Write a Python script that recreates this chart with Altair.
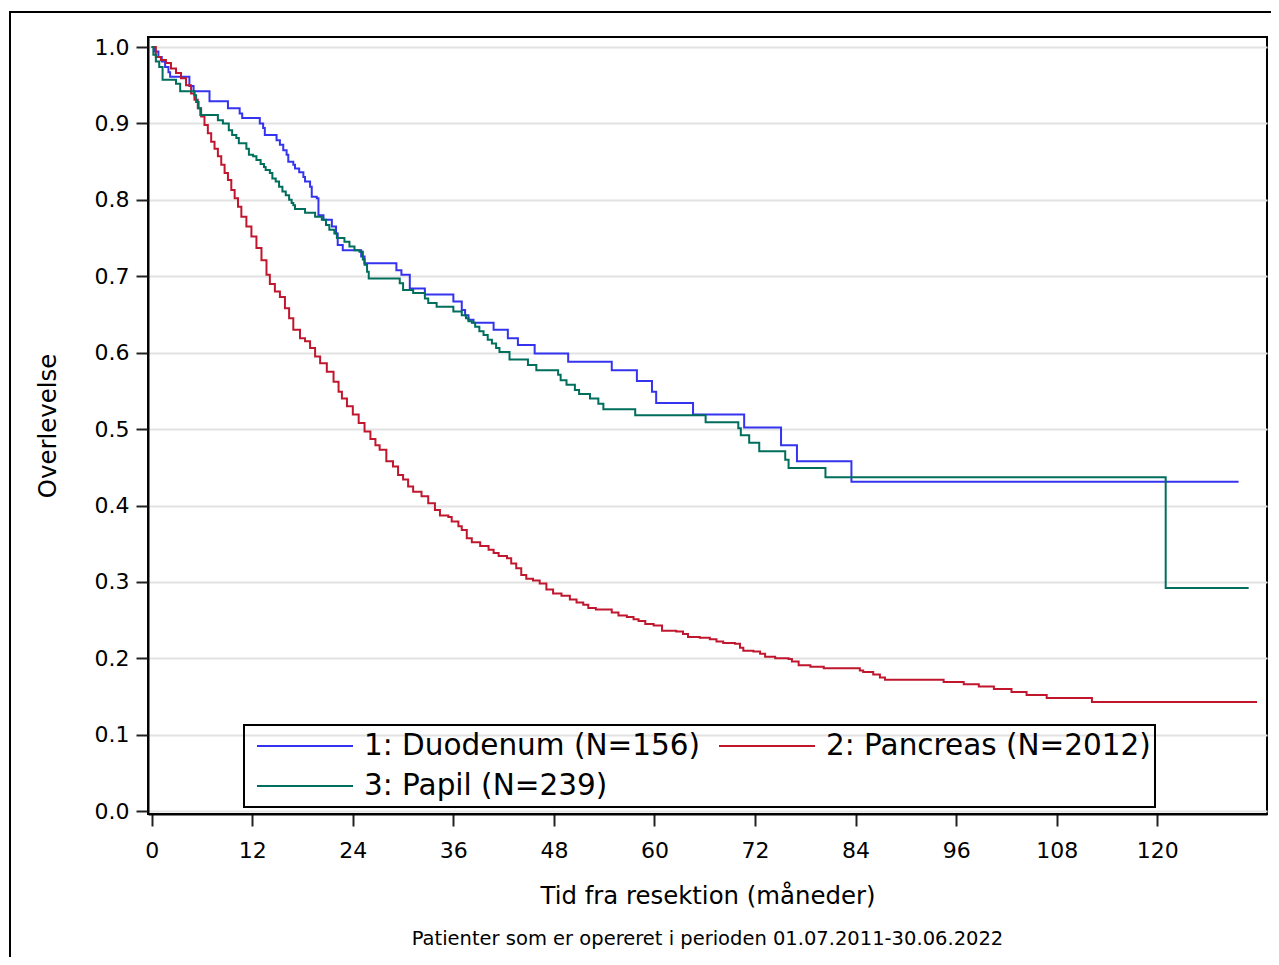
import altair as alt
import pandas as pd

# ---- data ----
series_names = ["1: Duodenum (N=156)", "2: Pancreas (N=2012)", "3: Papil (N=239)"]
series_colors = ["#3434f0", "#c0172e", "#006e5c"]

duo_month = [0, 0.3, 0.8, 1.2, 1.6, 2.0, 2.2, 4.5, 5.0, 6.9, 9.1, 10.5, 10.8, 12.9, 13.3, 13.5,
             14.9, 15.3, 15.7, 16.1, 16.3, 16.9, 17.1, 17.6, 18.1, 18.3, 18.9, 19.1, 19.7, 19.9,
             20.5, 21.5, 22.0, 22.2, 22.8, 25.0, 25.4, 29.2, 29.8, 30.8, 32.6, 36.0, 37.0, 37.4,
             37.8, 38.4, 40.8, 42.5, 43.7, 45.7, 49.7, 54.9, 57.9, 59.7, 60.2, 64.6, 70.7, 75.1,
             77.0, 83.5, 129.7]
duo_surv = [1.0, 0.994, 0.987, 0.981, 0.974, 0.967, 0.961, 0.949, 0.942, 0.929, 0.920, 0.913, 0.907,
            0.900, 0.894, 0.885, 0.878, 0.872, 0.865, 0.859, 0.850, 0.846, 0.841, 0.836, 0.830, 0.824,
            0.817, 0.804, 0.802, 0.780, 0.774, 0.765, 0.756, 0.741, 0.734, 0.726, 0.717, 0.708, 0.702,
            0.684, 0.676, 0.667, 0.656, 0.649, 0.643, 0.639, 0.630, 0.619, 0.610, 0.599, 0.588, 0.577,
            0.563, 0.549, 0.534, 0.519, 0.502, 0.479, 0.458, 0.431, 0.431]

pan_month = [0, 0.5, 1.1, 1.7, 2.3, 2.9, 3.5, 4.1, 4.7, 5.1, 5.5, 5.9, 6.3, 6.7, 7.1, 7.5, 7.9, 8.3,
             8.7, 9.1, 9.5, 9.9, 10.3, 10.7, 11.3, 11.9, 12.5, 13.1, 13.7, 14.1, 14.7, 15.3, 15.9,
             16.4, 16.9, 17.7, 18.3, 18.9, 19.5, 20.1, 20.9, 21.7, 22.3, 22.7, 23.3, 24.0, 24.7,
             25.4, 26.1, 26.7, 27.2, 28.0, 28.8, 29.4, 30.0, 30.6, 31.2, 32.2, 33.0, 33.8, 34.4,
             35.4, 35.8, 36.6, 37.0, 37.6, 38.2, 39.2, 40.2, 40.8, 41.4, 42.4, 42.9, 43.5, 44.1,
             44.7, 45.5, 46.3, 47.1, 47.9, 48.9, 49.9, 50.7, 51.5, 52.1, 53.0, 54.9, 55.7, 56.7,
             57.5, 58.1, 58.9, 59.9, 60.9, 62.6, 63.4, 64.0, 65.4, 66.6, 67.4, 68.2, 69.6, 70.2,
             70.6, 71.8, 72.6, 73.2, 74.4, 76.0, 76.4, 77.2, 78.6, 80.2, 84.5, 84.9, 86.1, 86.9,
             87.5, 94.5, 96.9, 98.7, 100.5, 102.6, 104.4, 106.8, 112.2, 131.9]
pan_surv = [1.0, 0.987, 0.983, 0.979, 0.972, 0.966, 0.959, 0.950, 0.939, 0.931, 0.920, 0.909, 0.898,
            0.887, 0.876, 0.867, 0.857, 0.846, 0.835, 0.826, 0.813, 0.802, 0.791, 0.778, 0.765, 0.752,
            0.737, 0.721, 0.702, 0.690, 0.680, 0.673, 0.658, 0.645, 0.630, 0.619, 0.615, 0.606, 0.595,
            0.586, 0.575, 0.562, 0.549, 0.540, 0.530, 0.519, 0.508, 0.497, 0.487, 0.479, 0.473, 0.458,
            0.451, 0.440, 0.434, 0.425, 0.418, 0.412, 0.403, 0.394, 0.387, 0.385, 0.379, 0.373, 0.368,
            0.357, 0.352, 0.347, 0.342, 0.338, 0.334, 0.331, 0.324, 0.318, 0.309, 0.304, 0.302, 0.298,
            0.290, 0.285, 0.282, 0.277, 0.273, 0.270, 0.266, 0.264, 0.260, 0.256, 0.254, 0.251, 0.249,
            0.245, 0.243, 0.236, 0.235, 0.232, 0.228, 0.227, 0.225, 0.222, 0.220, 0.219, 0.214, 0.210,
            0.209, 0.206, 0.202, 0.200, 0.199, 0.196, 0.191, 0.189, 0.187, 0.184, 0.182, 0.179, 0.175,
            0.172, 0.169, 0.166, 0.163, 0.160, 0.156, 0.152, 0.148, 0.143, 0.143]

pap_month = [0, 0.2, 0.5, 0.9, 1.3, 2.9, 3.4, 5.1, 5.3, 5.6, 5.8, 7.9, 8.5, 9.2, 9.6, 10.1, 10.4,
             11.3, 11.6, 12.1, 12.5, 13.0, 13.4, 13.6, 14.1, 14.4, 14.8, 15.2, 15.6, 16.0, 16.4,
             16.7, 16.9, 17.1, 18.3, 19.5, 20.3, 20.8, 21.2, 21.8, 22.1, 23.0, 23.6, 24.2, 24.8,
             25.2, 25.4, 25.7, 25.9, 29.6, 30.0, 31.2, 32.6, 33.0, 34.0, 36.0, 37.0, 37.5, 37.8,
             38.2, 38.6, 39.1, 39.6, 40.1, 40.6, 41.1, 41.5, 42.7, 44.9, 45.9, 48.5, 48.8, 49.5,
             50.5, 51.0, 52.3, 53.3, 53.9, 57.7, 66.1, 70.0, 70.3, 71.3, 72.5, 75.6, 76.0, 80.4,
             121.0, 130.9]
pap_surv = [1.0, 0.990, 0.981, 0.974, 0.957, 0.952, 0.942, 0.937, 0.928, 0.920, 0.911, 0.904, 0.900,
            0.891, 0.885, 0.881, 0.874, 0.867, 0.859, 0.857, 0.852, 0.847, 0.843, 0.839, 0.835, 0.828,
            0.824, 0.817, 0.811, 0.806, 0.800, 0.796, 0.793, 0.788, 0.783, 0.778, 0.774, 0.767, 0.761,
            0.756, 0.750, 0.745, 0.739, 0.734, 0.732, 0.722, 0.715, 0.706, 0.697, 0.691, 0.682, 0.678,
            0.671, 0.665, 0.660, 0.654, 0.649, 0.645, 0.641, 0.639, 0.634, 0.628, 0.623, 0.617, 0.612,
            0.606, 0.601, 0.591, 0.584, 0.577, 0.571, 0.564, 0.558, 0.551, 0.546, 0.540, 0.533, 0.526,
            0.518, 0.509, 0.501, 0.492, 0.482, 0.471, 0.460, 0.449, 0.437, 0.292, 0.292]

x_ticks = [0, 12, 24, 36, 48, 60, 72, 84, 96, 108, 120]
y_ticks = [0.0, 0.1, 0.2, 0.3, 0.4, 0.5, 0.6, 0.7, 0.8, 0.9, 1.0]
x_title = "Tid fra resektion (måneder)"
y_title = "Overlevelse"
footnote = "Patienter som er opereret i perioden 01.07.2011-30.06.2022"

# ---- tables ----
rows = []
for name, months, survs in [(series_names[0], duo_month, duo_surv),
                            (series_names[1], pan_month, pan_surv),
                            (series_names[2], pap_month, pap_surv)]:
    for i, (m, s) in enumerate(zip(months, survs)):
        rows.append({"group": name, "month": m, "surv": s, "order": i})
df = pd.DataFrame(rows)

FONT = "DejaVu Sans"
W, H = 1119, 777

lines = alt.Chart(df).mark_line(interpolate="step-after", strokeWidth=2).encode(
    x=alt.X("month:Q",
            scale=alt.Scale(domain=[-0.44, 133.09], nice=False, zero=False),
            axis=alt.Axis(values=x_ticks, title=x_title, grid=False, format="d")),
    y=alt.Y("surv:Q",
            scale=alt.Scale(domain=[-0.0037, 1.0131], nice=False, zero=False),
            axis=alt.Axis(values=y_ticks, title=y_title, format=".1f", grid=True)),
    color=alt.Color("group:N",
                    scale=alt.Scale(domain=series_names, range=series_colors),
                    legend=alt.Legend(title=None, orient="none", legendX=96, legendY=688,
                                      direction="horizontal", columns=2,
                                      symbolType="stroke", symbolSize=9216,
                                      symbolStrokeWidth=2, labelFontSize=29.5, labelFont=FONT,
                                      labelColor="black", labelOffset=10, columnPadding=9,
                                      rowPadding=6, padding=4, clipHeight=34,
                                      strokeColor="black", labelLimit=700, symbolOffset=8)),
    order="order:Q",
)

frame = alt.Chart(pd.DataFrame({"k": [0]})).mark_rect(
    filled=False, stroke="black", strokeWidth=2
).encode(x=alt.value(-138), x2=alt.value(1160), y=alt.value(-25), y2=alt.value(990))

note = alt.Chart(pd.DataFrame({"t": [footnote]})).mark_text(
    font=FONT, fontSize=19.5, color="black", baseline="middle", align="center"
).encode(text="t:N", x=alt.value(W / 2), y=alt.value(902))

chart = alt.layer(frame, lines, note).properties(
    width=W, height=H,
    autosize=alt.AutoSizeParams(type="none"),
    padding={"left": 140, "top": 29, "right": 4, "bottom": 143},
).configure_view(
    stroke="black", strokeWidth=2
).configure_axis(
    labelFont=FONT, labelFontSize=22, labelColor="black",
    titleFont=FONT, titleFontSize=24.4, titleFontWeight="normal", titleColor="black",
    tickSize=12, tickWidth=2, tickColor="#222222",
    domainColor="black", domainWidth=2,
    gridColor="#e2e2e2", gridWidth=2,
).configure_axisX(
    labelPadding=14, titlePadding=23,
).configure_axisY(
    labelPadding=7, titlePadding=34,
).configure_legend(
    strokeWidth=2,
)

chart.save("out.html", embed_options={"renderer": "svg", "actions": False})
